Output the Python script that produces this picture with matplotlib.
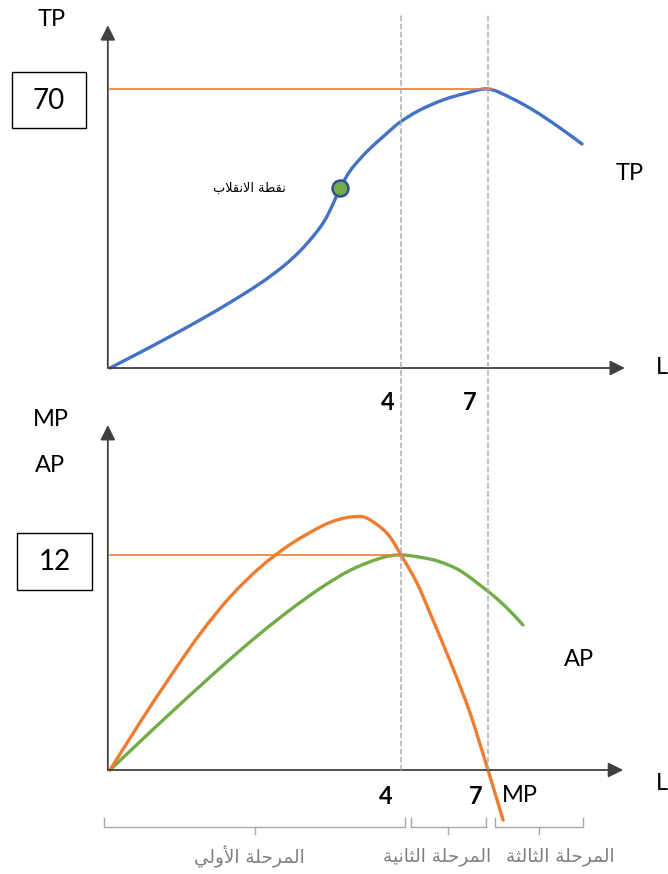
import numpy as np
import matplotlib
matplotlib.use('Agg')
import matplotlib.pyplot as plt
from matplotlib.patches import Rectangle, ConnectionPatch, PathPatch
from matplotlib.path import Path
from matplotlib.transforms import Affine2D

# ---------------- data ----------------
# Total product curve (L, TP)
TP_L = [0, 0.412, 0.825, 1.237, 1.649, 2.062, 2.378, 2.612, 2.818, 2.955,
        3.065, 3.162, 3.299, 3.436, 3.574, 3.780, 3.99, 4.655, 5.448, 6.207,
        7.0, 7.759, 8.552, 9.414, 10.241]
TP_VALS = [0, 3.89, 7.90, 12.04, 16.43, 21.20, 25.46, 29.35, 33.62, 37.13,
           41.14, 45.15, 49.42, 52.43, 55.07, 58.45, 61.72, 64.73, 67.24, 68.87,
           70.0, 67.86, 64.73, 60.59, 56.20]
INFLECTION = (3.162, 45.15)
TP_MAX = 70
TP_MAX_L = 7.14

# Marginal product curve (L, MP)
MP_L = [0, 0.412, 0.825, 1.237, 1.649, 2.062, 2.474, 2.887, 3.120, 3.340,
        3.533, 3.808, 4.0, 4.55, 5.0, 5.79, 6.38, 7.0, 7.52]
MP_VALS = [0, 2.65, 5.19, 7.59, 9.65, 11.30, 12.58, 13.56, 13.95, 14.13,
           14.05, 13.21, 12.0, 10.44, 8.76, 5.69, 3.18, 0, -2.79]

# Average product curve (L, AP)
AP_L = [0, 0.412, 0.825, 1.237, 1.649, 2.062, 2.474, 2.887, 3.299, 3.711,
        4.0, 5.0, 5.586, 6.138, 7.069, 7.655, 8.207]
AP_VALS = [0, 1.58, 3.15, 4.68, 6.18, 7.61, 8.93, 10.13, 11.14, 11.81,
           12.0, 11.77, 11.47, 11.02, 9.88, 9.04, 8.09]
AP_MAX = 12
AP_MAX_L = 4.03

L_TICKS = [4, 7]
L_TICK_LABELS = ['4', '7']
STAGE_NAMES = ['المرحلة الأولي', 'المرحلة الثانية', 'المرحلة الثالثة']
INFLECTION_LABEL = 'نقطة الانقلاب'

# ---------------- simple Arabic shaping (presentation forms, visual order) ----------------
AR_FORMS = {
    'ا': ('\uFE8D', '\uFE8E', None, None),
    'أ': ('\uFE83', '\uFE84', None, None),
    'إ': ('\uFE87', '\uFE88', None, None),
    'ب': ('\uFE8F', '\uFE90', '\uFE91', '\uFE92'),
    'ة': ('\uFE93', '\uFE94', None, None),
    'ت': ('\uFE95', '\uFE96', '\uFE97', '\uFE98'),
    'ث': ('\uFE99', '\uFE9A', '\uFE9B', '\uFE9C'),
    'ح': ('\uFEA1', '\uFEA2', '\uFEA3', '\uFEA4'),
    'ر': ('\uFEAD', '\uFEAE', None, None),
    'ط': ('\uFEC1', '\uFEC2', '\uFEC3', '\uFEC4'),
    'ق': ('\uFED5', '\uFED6', '\uFED7', '\uFED8'),
    'ل': ('\uFEDD', '\uFEDE', '\uFEDF', '\uFEE0'),
    'م': ('\uFEE1', '\uFEE2', '\uFEE3', '\uFEE4'),
    'ن': ('\uFEE5', '\uFEE6', '\uFEE7', '\uFEE8'),
    'و': ('\uFEED', '\uFEEE', None, None),
    'ي': ('\uFEF1', '\uFEF2', '\uFEF3', '\uFEF4'),
}
LAM_ALEF = {'ا': ('\uFEFB', '\uFEFC'), 'أ': ('\uFEF7', '\uFEF8'),
            'إ': ('\uFEF9', '\uFEFA')}


def _joins_next(tok):
    kind, c = tok
    if kind == 'LA':
        return False
    return AR_FORMS[c][2] is not None


def ar(text):
    words = []
    for word in text.split(' '):
        toks, i = [], 0
        while i < len(word):
            c = word[i]
            if c == 'ل' and i + 1 < len(word) and word[i + 1] in LAM_ALEF:
                toks.append(('LA', word[i + 1]))
                i += 2
            else:
                toks.append(('C', c))
                i += 1
        glyphs = []
        for k, (kind, c) in enumerate(toks):
            prev = k > 0 and _joins_next(toks[k - 1])
            if kind == 'LA':
                glyphs.append(LAM_ALEF[c][1 if prev else 0])
                continue
            f = AR_FORMS[c]
            nxt = f[2] is not None and k + 1 < len(toks)
            if prev and nxt:
                g = f[3]
            elif prev:
                g = f[1]
            elif nxt:
                g = f[2]
            else:
                g = f[0]
            glyphs.append(g)
        words.append(''.join(reversed(glyphs)))
    return ' '.join(reversed(words))


# ---------------- figure ----------------
W, H = 668, 874
fig = plt.figure(figsize=(W / 100, H / 100), dpi=100)
fig.patch.set_facecolor('white')
px = Affine2D().scale(1 / W, -1 / H).translate(0, 1) + fig.transFigure

LATIN = ['Lato', 'DejaVu Sans']
ARABIC = ['DejaVu Sans']

BLUE = '#4472C4'
ORANGE = '#ED7D31'
GREEN = '#70AD47'
AXIS_C = '#404040'
DASH_C = '#A6A6A6'


def fwd(L):
    L = np.asarray(L, float)
    return np.where(L <= 4, L * 72.75, 291 + (L - 4) * 29)


def inv(u):
    u = np.asarray(u, float)
    return np.where(u <= 291, u / 72.75, 4 + (u - 291) / 29)


def make_ax(left, top, right, bottom, ylim):
    ax = fig.add_axes([left / W, 1 - bottom / H, (right - left) / W, (bottom - top) / H])
    ax.set_xscale('function', functions=(fwd, inv))
    ax.set_xlim(0, 12)
    ax.set_ylim(*ylim)
    ax.axis('off')
    return ax


ax1 = make_ax(110, 368 - 88.5 * 3.986, 633, 368, (0, 88.5))
ax2 = make_ax(110, 770 - 20 * 17.92, 633, 770 + 4 * 17.92, (-4, 20))


def smooth_curve(ax, xs, ys, ypx, **kw):
    """Smoothed line (Catmull-Rom as cubic Bezier) through the given points,
    built in the axis' scaled space so the line passes exactly through them."""
    P = np.column_stack([fwd(xs), np.asarray(ys, float) * ypx])
    n = len(P)
    verts, codes = [P[0]], [Path.MOVETO]
    for i in range(n - 1):
        p0 = P[i - 1] if i > 0 else P[i]
        p1, p2 = P[i], P[i + 1]
        p3 = P[i + 2] if i + 2 < n else P[i + 1]
        c1 = p1 + (p2 - p0) / 6.0
        c2 = p2 - (p3 - p1) / 6.0
        verts += [c1, c2, p2]
        codes += [Path.CURVE4] * 3
    V = np.array(verts)
    V = np.column_stack([inv(V[:, 0]), V[:, 1] / ypx])
    patch = PathPatch(Path(V, codes), fill=False, transform=ax.transData,
                      capstyle='round', joinstyle='round', clip_on=False, **kw)
    ax.add_patch(patch)


def axis_arrows(ax, x_end, y_end):
    props = dict(arrowstyle='-|>,head_length=0.9,head_width=0.45',
                 mutation_scale=10, color=AXIS_C, lw=1.3,
                 shrinkA=0, shrinkB=0)
    ax.annotate('', xy=(x_end, 0), xytext=(-0.03, 0), arrowprops=props,
                annotation_clip=False)
    ax.annotate('', xy=(-0.03, y_end), xytext=(-0.03, 0), arrowprops=props,
                annotation_clip=False)


axis_arrows(ax1, 11.72, 86.0)
axis_arrows(ax2, 11.66, 19.25)

# dashed guides spanning both panels
for xv in L_TICKS:
    cp = ConnectionPatch(xyA=(xv, 88.3), coordsA=ax1.transData,
                         xyB=(xv, 0), coordsB=ax2.transData,
                         color=DASH_C, lw=1.0, linestyle=(0, (3.5, 2.3)))
    fig.add_artist(cp)

# top panel
ax1.plot([0, TP_MAX_L], [TP_MAX, TP_MAX], color=ORANGE, lw=1.2, clip_on=False)
smooth_curve(ax1, TP_L, TP_VALS, 3.986, edgecolor=BLUE, lw=2.4)
ax1.plot([INFLECTION[0]], [INFLECTION[1]], 'o', ms=11.5, mfc=GREEN,
         mec='#2F528F', mew=1.8, clip_on=False, zorder=5)

# bottom panel
ax2.plot([0, AP_MAX_L], [AP_MAX, AP_MAX], color=ORANGE, lw=1.2, clip_on=False)
smooth_curve(ax2, AP_L, AP_VALS, 17.92, edgecolor=GREEN, lw=2.4)
smooth_curve(ax2, MP_L, MP_VALS, 17.92, edgecolor=ORANGE, lw=2.4)

# ---------------- texts ----------------
def t(x, y, s, size, family=LATIN, **kw):
    kw.setdefault('ha', 'center')
    kw.setdefault('va', 'center')
    fig.text(x, y, s, transform=px, fontsize=size, family=family, **kw)


t(52, 19, 'TP', 17)
t(630, 173, 'TP', 17)
t(51, 420, 'MP', 17)
t(50, 465, 'AP', 17)
t(579, 660, 'AP', 17)
t(520, 796, 'MP', 17)
t(656, 368, 'L', 17, ha='left')
t(656, 784, 'L', 17, ha='left')

for xpx, lab in zip([388, 470], L_TICK_LABELS):
    t(xpx, 402, lab, 17, weight='bold')
for xpx, lab in zip([386, 476], L_TICK_LABELS):
    t(xpx, 797, lab, 17, weight='bold')

# value boxes
for (x0, y0, x1, y1), val in [((12, 72, 86, 128), TP_MAX), ((17, 533, 92, 590), AP_MAX)]:
    fig.add_artist(Rectangle((x0, y0), x1 - x0, y1 - y0, transform=px,
                             fill=False, ec='black', lw=1.0))
    t((x0 + x1) / 2, (y0 + y1) / 2 + 1, str(val), 20)

t(249, 188, ar(INFLECTION_LABEL), 9.3, family=ARABIC)

# stage brackets
BR_C = '#A6A6A6'
for (x0, x1, xc) in [(104, 405, 255), (411, 486, 448), (495, 583, 539)]:
    fig.add_artist(plt.Line2D([x0, x0, x1, x1], [818, 827, 827, 818],
                              transform=px, color=BR_C, lw=1.0))
    fig.add_artist(plt.Line2D([xc, xc], [827, 834], transform=px,
                              color=BR_C, lw=1.0))

for xpx, name in zip([249, 437, 560], STAGE_NAMES):
    t(xpx, 857, ar(name), 13.3, family=ARABIC, color='#7F7F7F')

fig.savefig('out.png', dpi=100, facecolor='white')
